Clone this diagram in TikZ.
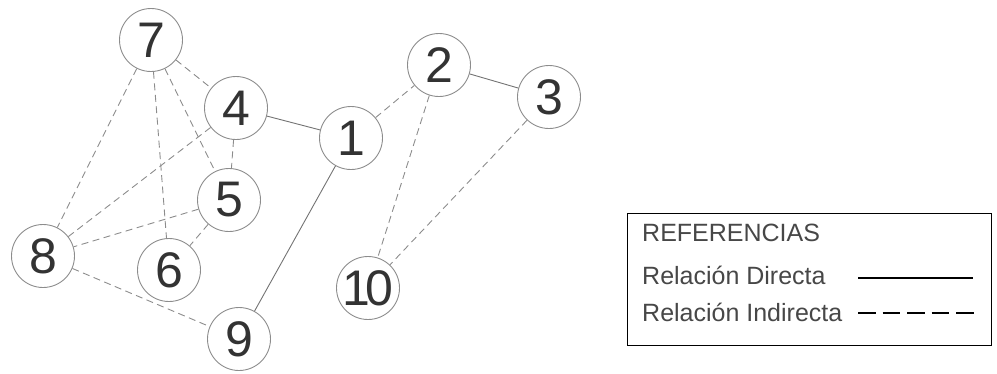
\documentclass[tikz,border=0pt]{standalone}
\usepackage{fontspec}
\setmainfont{Liberation Sans}
\begin{document}
\begin{tikzpicture}[x=1bp,y=-1bp,
  vert/.style={circle,draw=black!45,line width=0.9bp,minimum size=63bp,inner sep=0pt,
    text=black!80,font=\fontsize{50bp}{56bp}\selectfont},
  direct/.style={draw=black!55,line width=0.9bp},
  indirect/.style={draw=black!45,line width=0.9bp,dash pattern=on 7bp off 4.5bp},
  legtext/.style={anchor=west,inner sep=0pt,text=black!72,font=\fontsize{25bp}{30bp}\selectfont}]
\useasboundingbox (0,0) rectangle (997,373);
\node[vert] (n7) at (151,40) {7};
\node[vert] (n4) at (236,108) {4};
\node[vert] (n1) at (351,138) {1};
\node[vert] (n5) at (229,200) {5};
\node[vert] (n8) at (43,256) {8};
\node[vert] (n6) at (169,270) {6};
\node[vert] (n9) at (239,339) {9};
\node[vert] (n10) at (368,288) {1\kern-5bp 0};
\node[vert] (n2) at (439,65) {2};
\node[vert] (n3) at (549,97) {3};
% direct
\draw[direct] (n4) -- (n1);
\draw[direct] (n1) -- (n9);
\draw[direct] (n2) -- (n3);
% indirect
\draw[indirect] (n7) -- (n4);
\draw[indirect] (n7) -- (n8);
\draw[indirect] (n7) -- (n6);
\draw[indirect] (n7) -- (n5);
\draw[indirect] (n4) -- (n5);
\draw[indirect] (n4) -- (n8);
\draw[indirect] (n5) -- (n8);
\draw[indirect] (n5) -- (n6);
\draw[indirect] (n8) -- (n9);
\draw[indirect] (n1) -- (n2);
\draw[indirect] (n2) -- (n10);
\draw[indirect] (n3) -- (n10);
% legend
\node[draw=black,line width=1.4bp,minimum width=364bp,minimum height=132bp,inner sep=0pt,anchor=north west] (leg) at (627,213) {};
\node[legtext] (lt) at (642,233) {REFERENCIAS};
\node[legtext] (ld) at (642,275) {Relación Directa};
\node[legtext] (li) at (642,312) {Relación Indirecta};
\coordinate (da) at (858,278);
\coordinate (db) at (973,278);
\coordinate (ia) at (858,313);
\coordinate (ib) at (974,313);
\draw[black,line width=1.5bp] (da) -- (db);
\draw[black,line width=1.5bp,dash pattern=on 17.5bp off 7bp] (ia) -- (ib);
\end{tikzpicture}
\end{document}
